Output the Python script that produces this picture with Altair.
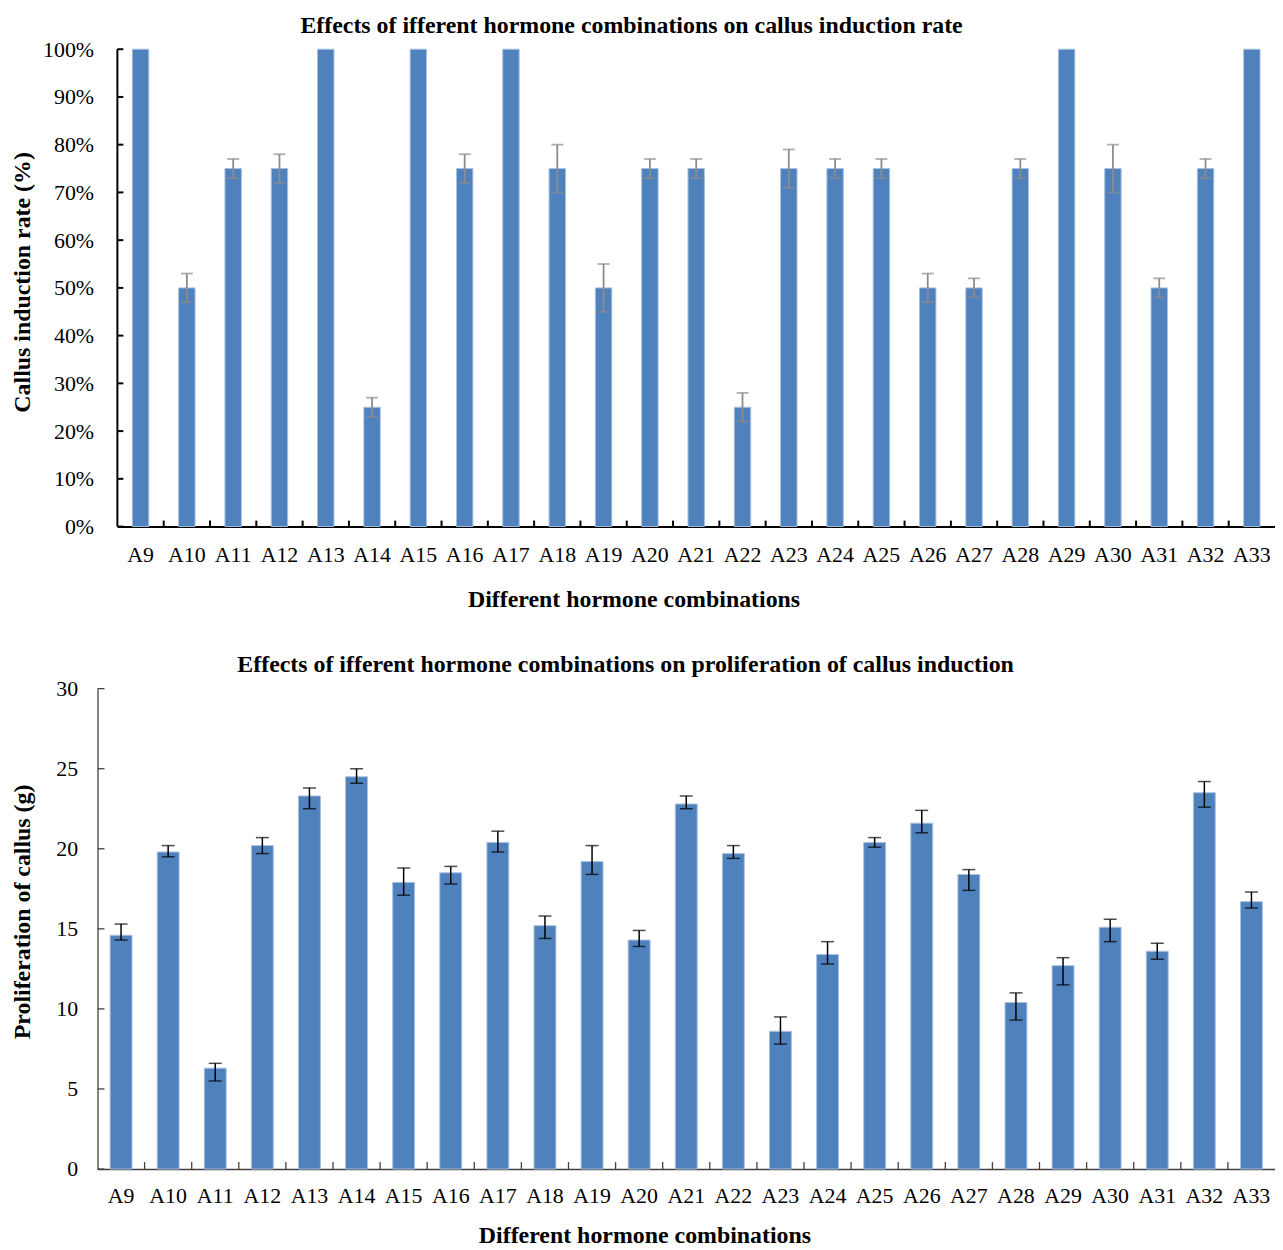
import altair as alt
import pandas as pd

# ---------------- data ----------------
combos = ["A9", "A10", "A11", "A12", "A13", "A14", "A15", "A16", "A17", "A18",
          "A19", "A20", "A21", "A22", "A23", "A24", "A25", "A26", "A27", "A28",
          "A29", "A30", "A31", "A32", "A33"]

# callus induction rate (%) and its error
rate = [100, 50, 75, 75, 100, 25, 100, 75, 100, 75,
        50, 75, 75, 25, 75, 75, 75, 50, 50, 75,
        100, 75, 50, 75, 100]
rate_err = [0, 3, 2, 3, 0, 2, 0, 3, 0, 5,
            5, 2, 2, 3, 4, 2, 2, 3, 2, 2,
            0, 5, 2, 2, 0]

# proliferation of callus (g), with error-bar bounds
mass = [14.6, 19.8, 6.3, 20.2, 23.3, 24.5, 17.9, 18.5, 20.4, 15.2,
        19.2, 14.3, 22.8, 19.7, 8.6, 13.4, 20.4, 21.6, 18.4, 10.4,
        12.7, 15.1, 13.6, 23.5, 16.7]
mass_hi = [15.3, 20.2, 6.6, 20.7, 23.8, 25.0, 18.8, 18.9, 21.1, 15.8,
           20.2, 14.9, 23.3, 20.2, 9.5, 14.2, 20.7, 22.4, 18.7, 11.0,
           13.2, 15.6, 14.1, 24.2, 17.3]
mass_lo = [14.3, 19.5, 5.5, 19.7, 22.5, 24.1, 17.1, 17.8, 19.8, 14.4,
           18.4, 13.9, 22.5, 19.4, 7.8, 12.8, 20.1, 21.0, 17.4, 9.3,
           11.5, 14.2, 13.1, 22.6, 16.3]

rate_ticks = [0, 10, 20, 30, 40, 50, 60, 70, 80, 90, 100]
mass_ticks = [0, 5, 10, 15, 20, 25, 30]

title_top = "Effects of ifferent hormone combinations on callus induction rate"
title_bot = "Effects of ifferent hormone combinations on proliferation of callus induction"
xtitle = "Different hormone combinations"
ytitle_top = "Callus induction rate (%)"
ytitle_bot = "Proliferation of callus (g)"

# ---------------- style ----------------
FONT = "Liberation Serif"
BLUE = "#4F81BD"
EDGE = "#A9C1E0"
W = 1184
H1 = 480
H2 = 483
FS = 22      # tick labels
TFS = 24     # titles

boundaries = list(range(1, len(combos)))

# ---------------- top chart ----------------
df1 = pd.DataFrame({"combo": combos, "rate": rate, "err": rate_err})
df1["lo"] = df1["rate"] - df1["err"]
df1["hi"] = df1["rate"] + df1["err"]
df1e = df1[df1["err"] > 0]

xs1 = alt.Scale(domain=combos, range=[20, W], paddingInner=0.645, paddingOuter=0.3225)
xaxis1 = alt.Axis(title=xtitle, titleX=539, titleY=73, titleBaseline="middle",
                  titleFontSize=TFS, titleFontWeight="bold", titleFont=FONT, titleColor="black",
                  labelAngle=0, labelFontSize=FS, labelFont=FONT, labelColor="black",
                  labelPadding=18, ticks=False, domainColor="black", domainWidth=2,
                  grid=False)
ys1 = alt.Scale(domain=[0, 100], nice=False, zero=True)
yaxis1 = alt.Axis(title=ytitle_top, titleX=-75, titleY=234, titleBaseline="middle",
                  titleFontSize=TFS, titleFontWeight="bold", titleFont=FONT, titleColor="black",
                  values=rate_ticks, labelExpr="datum.value + '%'",
                  labelFontSize=FS, labelFont=FONT, labelColor="black",
                  labelPadding=4, ticks=False, domain=False, grid=False)


def y1(field):
    return alt.Y(f"{field}:Q", scale=ys1, axis=yaxis1)


def x1():
    return alt.X("combo:N", scale=xs1, axis=xaxis1)


bars1 = alt.Chart(df1).mark_bar(color=BLUE, stroke=EDGE, strokeWidth=1).encode(x=x1(), y=y1("rate"))
err1 = alt.Chart(df1e).mark_rule(color="#8C8C8C", strokeWidth=1.8).encode(x=x1(), y=y1("lo"), y2="hi:Q")
caphi1 = alt.Chart(df1e).mark_tick(color="#8C8C8C", thickness=1.8, size=12).encode(x=x1(), y=y1("hi"))
caplo1 = alt.Chart(df1e).mark_tick(color="#8C8C8C", thickness=1.8, size=12).encode(x=x1(), y=y1("lo"))
yline1 = alt.Chart(pd.DataFrame({"t": [0]})).mark_rule(color="black", strokeWidth=2).encode(
    x=alt.value(20), y=alt.value(0), y2=alt.value(H1))
yticks1 = alt.Chart(pd.DataFrame({"t": rate_ticks})).mark_rule(color="black", strokeWidth=2).encode(
    y=y1("t"), x=alt.value(20), x2=alt.value(26))
xticks1 = alt.Chart(pd.DataFrame({"b": boundaries})).mark_rule(color="black", strokeWidth=2).encode(
    x=alt.X("b:Q", scale=alt.Scale(domain=[0, len(combos)], range=[20, W]), axis=None),
    y=alt.value(H1), y2=alt.value(H1 - 6))

inner1 = alt.layer(bars1, err1, caphi1, caplo1, yline1, yticks1)
top = alt.layer(inner1, xticks1).resolve_scale(x="independent").properties(
    width=W, height=H1,
    title=alt.TitleParams(title_top, fontSize=TFS, fontWeight="bold", font=FONT,
                          anchor="middle", frame="group", dx=-55, offset=0, color="black"))

# ---------------- bottom chart ----------------
df2 = pd.DataFrame({"combo": combos, "mass": mass, "lo": mass_lo, "hi": mass_hi})

AX2 = "#404040"
xs2 = alt.Scale(domain=combos, paddingInner=0.535, paddingOuter=0.2675)
xaxis2 = alt.Axis(title=xtitle, titleX=550, titleY=67, titleBaseline="middle",
                  titleFontSize=TFS, titleFontWeight="bold", titleFont=FONT, titleColor="black",
                  labelAngle=0, labelFontSize=FS, labelFont=FONT, labelColor="black",
                  labelPadding=17, ticks=False, domainColor=AX2, domainWidth=1.5,
                  grid=False)
ys2 = alt.Scale(domain=[0, 30], nice=False, zero=True)
yaxis2 = alt.Axis(title=ytitle_bot, titleX=-75, titleY=224, titleBaseline="middle",
                  titleFontSize=TFS, titleFontWeight="bold", titleFont=FONT, titleColor="black",
                  values=mass_ticks, labelFontSize=FS, labelFont=FONT, labelColor="black",
                  labelPadding=20, ticks=False, domainColor=AX2, domainWidth=1.3, grid=False)


def y2(field):
    return alt.Y(f"{field}:Q", scale=ys2, axis=yaxis2)


def x2():
    return alt.X("combo:N", scale=xs2, axis=xaxis2)


bars2 = alt.Chart(df2).mark_bar(color=BLUE, stroke=EDGE, strokeWidth=1).encode(x=x2(), y=y2("mass"))
err2 = alt.Chart(df2).mark_rule(color="black", strokeWidth=1.5).encode(x=x2(), y=y2("lo"), y2="hi:Q")
caphi2 = alt.Chart(df2).mark_tick(color="black", thickness=1.5, size=13).encode(x=x2(), y=y2("hi"))
caplo2 = alt.Chart(df2).mark_tick(color="black", thickness=1.5, size=13).encode(x=x2(), y=y2("lo"))
yticks2 = alt.Chart(pd.DataFrame({"t": mass_ticks})).mark_rule(color=AX2, strokeWidth=1.3).encode(
    y=y2("t"), x=alt.value(0), x2=alt.value(7))
xticks2 = alt.Chart(pd.DataFrame({"b": boundaries})).mark_rule(color=AX2, strokeWidth=1.3).encode(
    x=alt.X("b:Q", scale=alt.Scale(domain=[0, len(combos)], range=[0, W]), axis=None),
    y=alt.value(H2), y2=alt.value(H2 - 7))

inner2 = alt.layer(bars2, err2, caphi2, caplo2, yticks2)
bottom = alt.layer(inner2, xticks2).resolve_scale(x="independent").properties(
    width=W, height=H2,
    title=alt.TitleParams(title_bot, fontSize=TFS, fontWeight="bold", font=FONT,
                          anchor="middle", frame="group", dx=-61, offset=1, color="black"))

chart = alt.vconcat(top, bottom, spacing=42).properties(
    padding={"left": 3, "top": 3, "right": 0, "bottom": 0}
).configure(font=FONT).configure_axis(labelFont=FONT, titleFont=FONT).configure_title(
    font=FONT).configure_view(stroke=None)

chart.save("out.html", embed_options={"renderer": "svg", "actions": False})
